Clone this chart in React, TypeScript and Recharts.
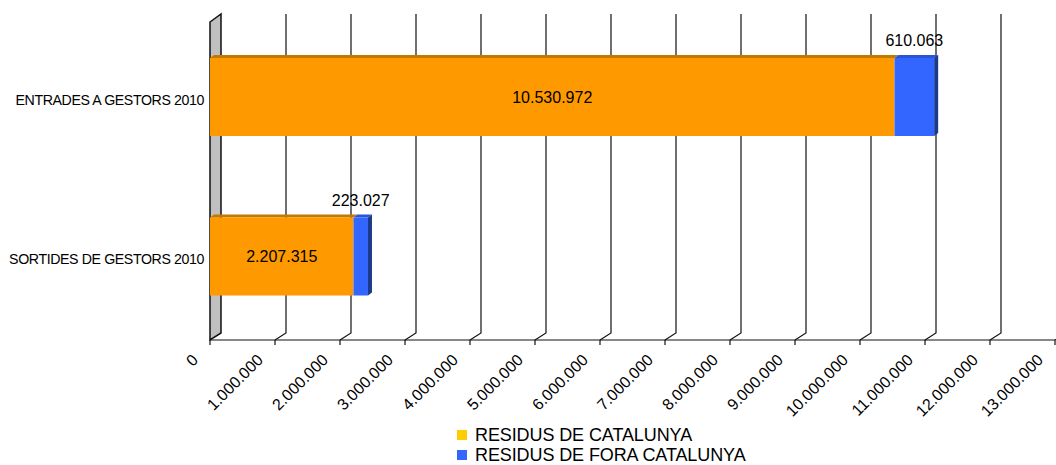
import { BarChart, Bar, XAxis, YAxis, CartesianGrid, LabelList, Legend } from 'recharts';

const categories = ['ENTRADES A GESTORS 2010', 'SORTIDES DE GESTORS 2010'];
const catalunya = [10530972, 2207315];
const foraCatalunya = [610063, 223027];
const xTicks = [0, 1000000, 2000000, 3000000, 4000000, 5000000, 6000000, 7000000, 8000000, 9000000, 10000000, 11000000, 12000000, 13000000];

const data = categories.map((name, i) => ({
  name,
  catalunya: catalunya[i],
  fora: foraCatalunya[i],
}));

const FONT = 'Liberation Sans, Arial, sans-serif';
const DX = 11; // 3D depth of the walls
const DY = 7;

function fmt(v: number) {
  return String(v).replace(/\B(?=(\d{3})+(?!\d))/g, '.');
}

function GridLine(props: any) {
  const { x1, y1, y2, index } = props;
  if (index === 0 || Math.abs(x1 - 210) < 1) {
    return (
      <polygon
        key={props.key}
        points={`${x1},${y1 + 5} ${x1 + DX},${y1 - 3} ${x1 + DX},${y2 - DY} ${x1},${y2}`}
        fill="#c0c0c0"
        stroke="#111"
        strokeWidth={1.5}
      />
    );
  }
  return (
    <path
      key={props.key}
      d={`M${x1 + DX},${y1 - 3} V${y2 - DY} L${x1},${y2}`}
      fill="none"
      stroke="#111"
      strokeWidth={1.2}
    />
  );
}

function OrangeShape(p: any) {
  const { x, y, width: w, height: h } = p;
  return (
    <g>
      <polygon points={`${x},${y} ${x + 4},${y - 3} ${x + w + 4},${y - 3} ${x + w},${y}`} fill="#c47800" />
      <rect x={x} y={y} width={w} height={h} fill="#ff9900" />
    </g>
  );
}

function BlueShape(p: any) {
  const { x, y, width: w, height: h } = p;
  return (
    <g>
      <polygon points={`${x},${y} ${x + 4},${y - 3} ${x + w + 4},${y - 3} ${x + w},${y}`} fill="#2a55d8" />
      <rect x={x} y={y} width={w} height={h} fill="#3366ff" />
      <polygon points={`${x + w},${y} ${x + w + 4},${y - 3} ${x + w + 4},${y + h - 3} ${x + w},${y + h}`} fill="#1c3a8c" />
    </g>
  );
}

function XTick({ x, y, payload }: any) {
  const ax = x - 11;
  const ay = y + 14;
  return (
    <text x={ax} y={ay} transform={`rotate(-45, ${ax}, ${ay})`} textAnchor="end" fontSize={16} fontFamily={FONT} fill="#000">
      {fmt(payload.value)}
    </text>
  );
}

function YTick({ x, y, payload }: any) {
  return (
    <text x={x + 2} y={y + 8} textAnchor="end" fontSize={14.2} letterSpacing={-0.4} fontFamily={FONT} fill="#000">
      {payload.value}
    </text>
  );
}

function LegendBox() {
  const items = [
    { label: 'RESIDUS DE CATALUNYA', color: '#ffcc00' },
    { label: 'RESIDUS DE FORA CATALUNYA', color: '#3366ff' },
  ];
  return (
    <div style={{ paddingLeft: 457, paddingTop: 5, fontFamily: FONT }}>
      {items.map((it) => (
        <div key={it.label} style={{ display: 'flex', alignItems: 'center', height: 20 }}>
          <span style={{ width: 10, height: 10, background: it.color, display: 'inline-block', marginRight: 8 }} />
          <span style={{ fontSize: 18, letterSpacing: -0.1, color: '#000', lineHeight: '20px' }}>{it.label}</span>
        </div>
      ))}
    </div>
  );
}

export default function App() {
  return (
    <div style={{ position: 'absolute', left: 0, top: 0, width: 1056, height: 465, background: '#fff' }}>
      <BarChart
        width={1056}
        height={465}
        data={data}
        layout="vertical"
        margin={{ top: 17, right: 1, bottom: 0, left: 0 }}
        barSize={78}
      >
        <CartesianGrid horizontal={false} vertical={GridLine} />
        <XAxis
          type="number"
          domain={[0, 13000000]}
          ticks={xTicks}
          interval={0}
          height={80}
          tick={XTick}
          tickSize={5}
          axisLine={{ stroke: '#111', strokeWidth: 1.2 }}
          tickLine={{ stroke: '#111', strokeWidth: 1.2 }}
        />
        <YAxis
          type="category"
          dataKey="name"
          width={210}
          axisLine={false}
          tickLine={false}
          tick={YTick}
          padding={{ top: 0, bottom: 4 }}
        />
        <Legend verticalAlign="bottom" height={45} content={LegendBox} />
        <Bar dataKey="catalunya" stackId="a" fill="#ff9900" shape={OrangeShape} isAnimationActive={false}>
          <LabelList dataKey="catalunya" position="center" formatter={(v: any) => fmt(v)} fontSize={16} fontFamily={FONT} fill="#000" />
        </Bar>
        <Bar dataKey="fora" stackId="a" fill="#3366ff" shape={BlueShape} isAnimationActive={false}>
          <LabelList dataKey="fora" position="top" offset={12} formatter={(v: any) => fmt(v)} fontSize={16} fontFamily={FONT} fill="#000" />
        </Bar>
      </BarChart>
    </div>
  );
}
